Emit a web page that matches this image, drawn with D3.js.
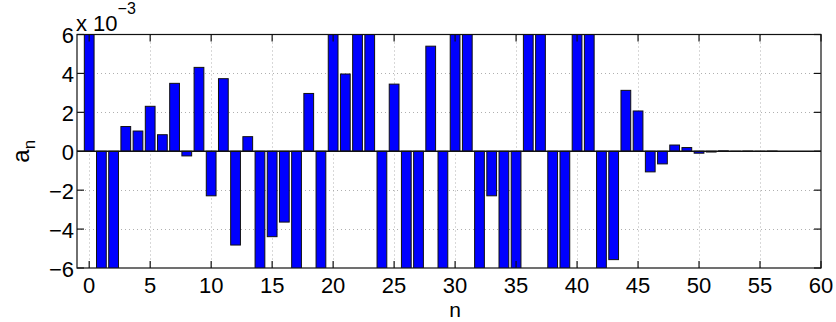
<!DOCTYPE html>
<html>
<head>
<meta charset="utf-8">
<script src="https://cdn.jsdelivr.net/npm/d3@7"></script>
<style>
  html, body { margin: 0; padding: 0; background: #fff; }
  svg { display: block; font-family: "Liberation Sans", Arial, Helvetica, sans-serif; }
</style>
</head>
<body>
<svg id="chart" width="836" height="322"></svg>
<script>
// Coefficient index n
const nValues = d3.range(0, 61);
// Coefficients a_n (values beyond ±6e-3 run off the axes)
const aValues = [
  0.0098, -0.0087, -0.0079, 0.00127, 0.00104, 0.00231, 0.00085, 0.00349, -0.00024, 0.00431,
  -0.00229, 0.00373, -0.00482, 0.00075, -0.0071, -0.00439, -0.00364, -0.0083, 0.00297, -0.0076,
  0.0091, 0.00397, 0.0102, 0.0088, -0.0094, 0.00345, -0.0097, -0.0089, 0.00540, -0.0106,
  0.0112, 0.0095, -0.0101, -0.00229, -0.0093, -0.0108, 0.0117, 0.0104, -0.0099, -0.0091,
  0.0085, 0.0072, -0.0064, -0.00557, 0.00313, 0.00207, -0.00106, -0.00065, 0.00032, 0.00019,
  -0.00010, -0.00004, 0.00002, -0.00001, 0.00001, -0.00001, 0.00001, 0, 0, 0, 0
];
// Tick values
const xTicks = d3.range(0, 61, 5);
const yTicks = [-6e-3, -4e-3, -2e-3, 0, 2e-3, 4e-3, 6e-3];

const svg = d3.select("#chart");
const plotLeft = 77, plotRight = 821, plotTop = 34.5, plotBottom = 268;

const x = d3.scaleLinear().domain([-1, 60]).range([plotLeft, plotRight]);
const y = d3.scaleLinear().domain([-6e-3, 6e-3]).range([plotBottom, plotTop]);
const barW = (x(1) - x(0)) * 0.8;

const fmtY = v => {
  const s = Math.round(v * 1000);
  return s < 0 ? "\u2212" + Math.abs(s) : String(s);
};

svg.append("defs").append("clipPath").attr("id", "plotClip")
  .append("rect").attr("x", plotLeft).attr("y", plotTop)
  .attr("width", plotRight - plotLeft).attr("height", plotBottom - plotTop);

// dotted grid
const grid = svg.append("g").attr("stroke", "#b0b0b0").attr("stroke-width", 1)
  .attr("stroke-dasharray", "1,3");
grid.selectAll("line.gx").data(xTicks.filter(t => t > -1 && t < 60)).join("line")
  .attr("class", "gx")
  .attr("x1", d => Math.round(x(d)) + 0.5).attr("x2", d => Math.round(x(d)) + 0.5)
  .attr("y1", plotTop).attr("y2", plotBottom);
grid.selectAll("line.gy").data(yTicks.slice(1, -1)).join("line")
  .attr("class", "gy")
  .attr("y1", d => Math.round(y(d)) + 0.5).attr("y2", d => Math.round(y(d)) + 0.5)
  .attr("x1", plotLeft).attr("x2", plotRight);

// bars
const bars = svg.append("g").attr("clip-path", "url(#plotClip)");
bars.selectAll("rect").data(nValues.map((n, i) => ({ n, a: aValues[i] }))).join("rect")
  .attr("x", d => x(d.n) - barW / 2)
  .attr("width", barW)
  .attr("y", d => y(Math.max(0, d.a)))
  .attr("height", d => Math.abs(y(d.a) - y(0)))
  .attr("fill", "#0000ff")
  .attr("stroke", "#111")
  .attr("stroke-width", 1);

// baseline at zero
svg.append("line")
  .attr("x1", plotLeft).attr("x2", plotRight)
  .attr("y1", y(0)).attr("y2", y(0))
  .attr("stroke", "#111").attr("stroke-width", 1.3);

// axes box with inward ticks on all sides
const tickLen = 7;
const axisG = svg.append("g").attr("stroke", "#111").attr("stroke-width", 1.2);
axisG.append("rect").attr("x", plotLeft).attr("y", plotTop)
  .attr("width", plotRight - plotLeft).attr("height", plotBottom - plotTop).attr("fill", "none");
xTicks.forEach(t => {
  axisG.append("line").attr("x1", x(t)).attr("x2", x(t)).attr("y1", plotBottom).attr("y2", plotBottom - tickLen);
  axisG.append("line").attr("x1", x(t)).attr("x2", x(t)).attr("y1", plotTop).attr("y2", plotTop + tickLen);
});
yTicks.forEach(t => {
  axisG.append("line").attr("y1", y(t)).attr("y2", y(t)).attr("x1", plotLeft).attr("x2", plotLeft + tickLen);
  axisG.append("line").attr("y1", y(t)).attr("y2", y(t)).attr("x1", plotRight).attr("x2", plotRight - tickLen);
});

// tick labels
const fs = 22;
svg.append("g").selectAll("text").data(xTicks).join("text")
  .attr("x", d => x(d)).attr("y", 293)
  .attr("text-anchor", "middle").attr("font-size", fs).attr("fill", "#000")
  .text(d => d);
svg.append("g").selectAll("text").data(yTicks).join("text")
  .attr("x", 74).attr("y", d => y(d) + 8.5)
  .attr("text-anchor", "end").attr("font-size", fs).attr("fill", "#000")
  .text(fmtY);

// exponent label
const ex = svg.append("text").attr("x", 76).attr("y", 31).attr("font-size", fs).attr("fill", "#000");
ex.append("tspan").text("x 10");
ex.append("tspan").attr("dy", -17).attr("font-size", 16).text("\u22123");

// axis labels
svg.append("text").attr("x", x(30)).attr("y", 317).attr("text-anchor", "middle")
  .attr("font-size", 21).attr("fill", "#000").text("n");
const yl = svg.append("text").attr("transform", `translate(29, ${y(0)}) rotate(-90)`)
  .attr("text-anchor", "middle").attr("font-size", 24).attr("fill", "#000");
yl.append("tspan").text("a");
yl.append("tspan").attr("dy", 6).attr("font-size", 17).text("n");
</script>
</body>
</html>
